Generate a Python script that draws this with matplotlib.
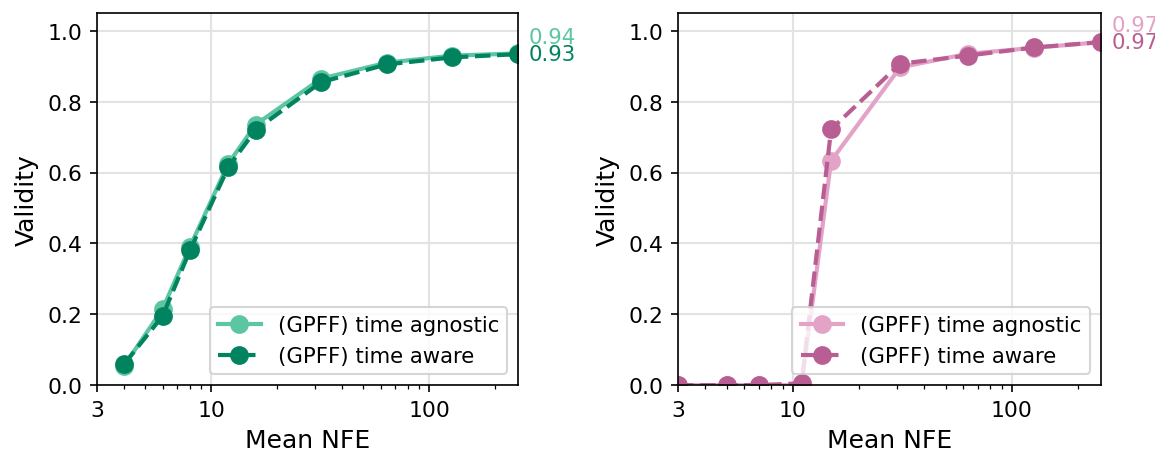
import numpy as np
import matplotlib
matplotlib.use('Agg')
from matplotlib import pyplot as plt
from matplotlib.ticker import ScalarFormatter, NullFormatter
import matplotlib.transforms as mtransforms

# left panel data
nfe_left = [4, 6, 8, 12, 16, 32, 64, 128, 256]
agnostic_left = [0.055, 0.215, 0.39, 0.625, 0.735, 0.865, 0.91, 0.93, 0.936]
aware_left = [0.06, 0.195, 0.38, 0.615, 0.72, 0.855, 0.905, 0.925, 0.934]

# right panel data
nfe_right = [3, 5, 7, 11, 15, 31, 63, 127, 255]
agnostic_right = [0.0, 0.0, 0.0, 0.0, 0.633, 0.897, 0.935, 0.952, 0.968]
aware_right = [0.0, 0.0, 0.0, 0.005, 0.722, 0.907, 0.930, 0.953, 0.968]

labels = ["(GPFF) time agnostic", "(GPFF) time aware"]
colors_left = ["#5cc6a3", "#00835e"]
colors_right = ["#e2a3c7", "#b85e92"]

fig = plt.figure(figsize=(7.7, 3.053), dpi=150)
ax1 = fig.add_axes([0.084, 0.157, 0.3645, 0.8124])
ax2 = fig.add_axes([0.587, 0.157, 0.366, 0.8124])


def draw(ax, x, y_ag, y_aw, cols, xmax):
    ax.plot(x, y_ag, '-', marker='o', color=cols[0], lw=2, ms=8, label=labels[0])
    ax.plot(x, y_aw, '--', marker='o', color=cols[1], lw=2, ms=8, label=labels[1])
    ax.set_xscale('log')
    ax.set_xlim(3, xmax)
    ax.set_ylim(0, 1.05)
    ax.set_xticks([3, 10, 100])
    ax.xaxis.set_major_formatter(ScalarFormatter())
    ax.xaxis.set_minor_formatter(NullFormatter())
    ax.tick_params(labelsize=10.5)
    ax.grid(True, which='major', color='#e3e3e3', lw=1)
    ax.set_xlabel("Mean NFE", fontsize=12)
    ax.set_ylabel("Validity", fontsize=12)
    ax.legend(loc='lower right', fontsize=10.2)
    trans = mtransforms.blended_transform_factory(ax.transAxes, ax.transData)
    ax.annotate(f"{y_ag[-1]:.2f}", xy=(1, y_aw[-1]), xycoords=trans,
                xytext=(5, 8), textcoords='offset points', color=cols[0],
                va='center', ha='left', fontsize=10.2, annotation_clip=False)
    ax.annotate(f"{y_aw[-1]:.2f}", xy=(1, y_aw[-1]), xycoords=trans,
                xytext=(5, 0), textcoords='offset points', color=cols[1],
                va='center', ha='left', fontsize=10.2, annotation_clip=False)


draw(ax1, nfe_left, agnostic_left, aware_left, colors_left, 256)
draw(ax2, nfe_right, agnostic_right, aware_right, colors_right, 255)

fig.savefig('out.png', dpi=150)
